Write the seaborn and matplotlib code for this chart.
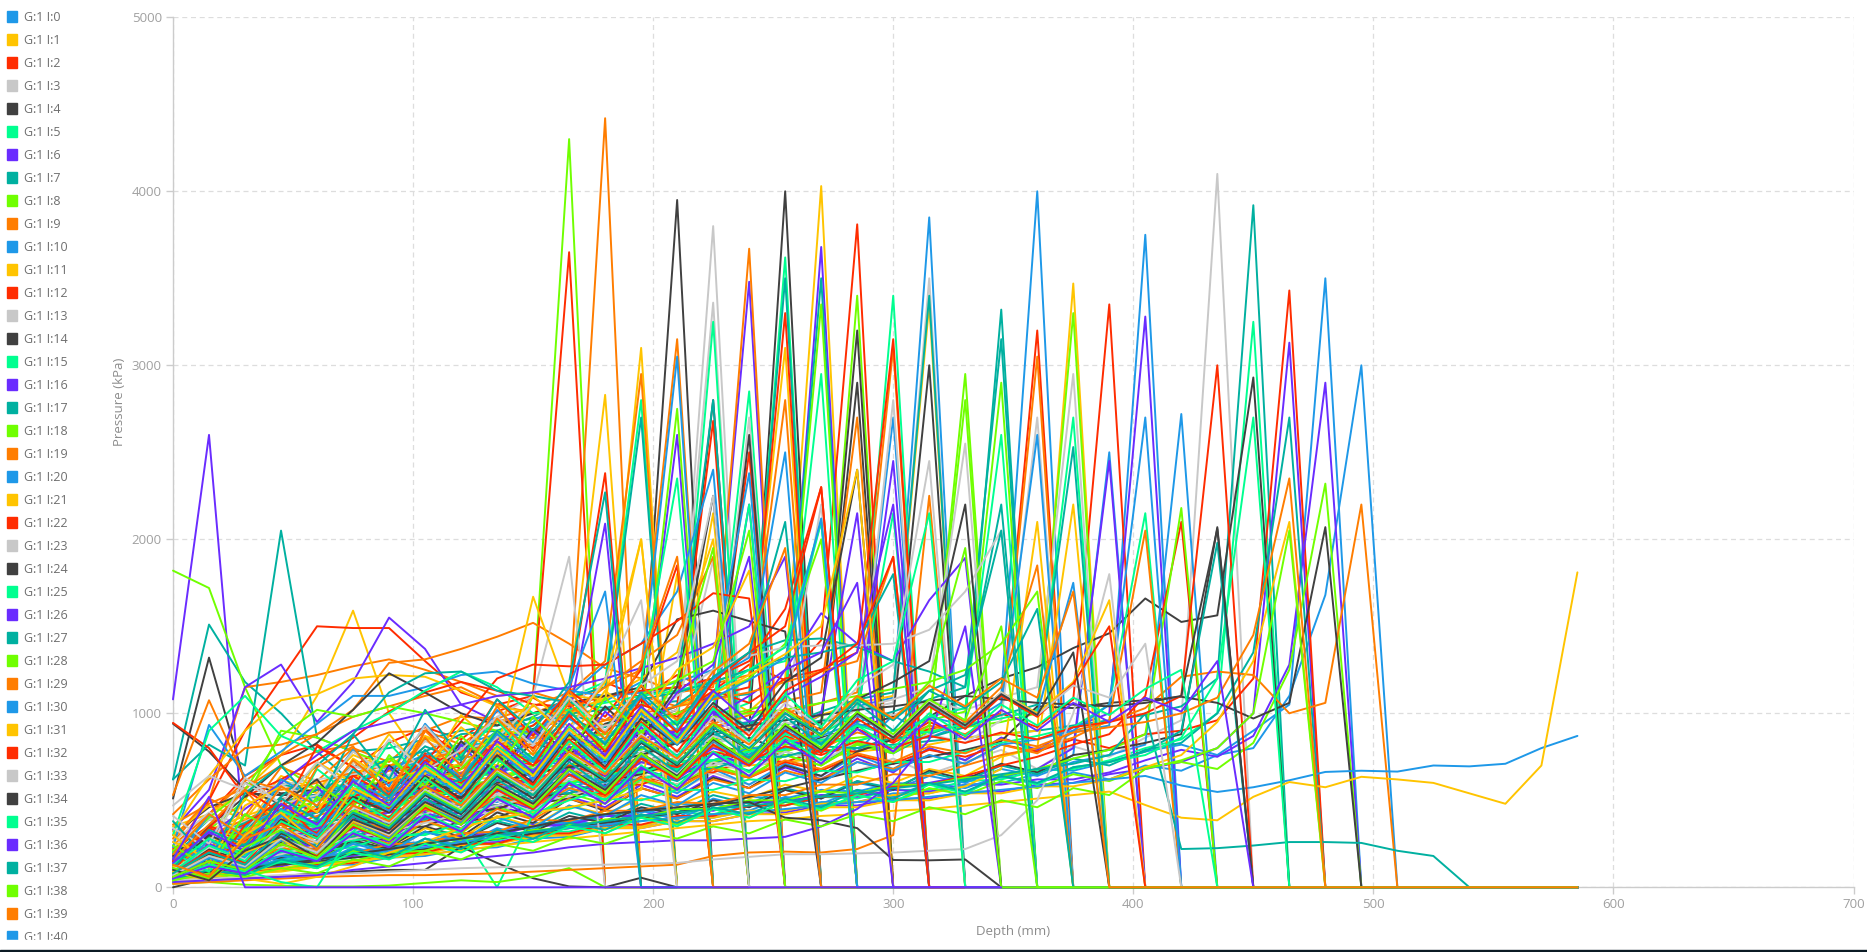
import numpy as np
import pandas as pd
import seaborn as sns
from matplotlib import pyplot as plt
from matplotlib.patches import Patch, Rectangle

# depth samples every 15 mm, a probe reading 0 after refusal
depth = list(range(0, 600, 15))
colors = ["#1e98e8", "#ffc400", "#ff2c00", "#c8c8c8", "#404040",
          "#00ff90", "#6a2cff", "#00b0a0", "#70ff00", "#ff7d00"]
x_ticks = [0, 100, 200, 300, 400, 500, 600, 700]
y_ticks = [0, 1000, 2000, 3000, 4000, 5000]
n_legend = 41

i0 = [120,260,210,390,350,520,470,610,560,700,640,780,720,830,760,880,790,850,920,780,990,860,940,1100,4000]
i1 = [210,400,340,620,540,780,690,860,800,950,880,1020,930,1080,960,1120,1010,1200,4030]
i2 = [180,420,640,760,820,690,830,920,850,1010,1090,970,1180,1090,1220,1130,1280,1190,1420,3810]
i3 = [90,220,170,310,260,390,340,470,420,530,480,590,520,610,550,660,590,700,630,670,740,650,720,790,680,810,750,860,960,4100]
i4 = [510,1320,600,540,560,550,540,500,480,470,520,600,660,720,780,840,900,4000]
i5 = [140,310,240,450,370,560,480,650,590,760,680,840,730,900,820,980,1060,3620]
i6 = [1080,2600,215,150,300,420,520,600,640,680,740,760,800,840,880,920,950,1000,3680]
i7 = [620,1510,1180,1000,780,600,560,540,560,600,620,640,660,680,700,720,740,760,780,800,820,840,860,880,900,930,960,990,1040,1200,3920]
i8 = [1820,1720,1150,700,560,520,480,540,620,700,1100,4300]
i9 = [260,500,1150,1180,1220,1270,1310,1250,1180,1100,1120,1060,4420]
i10 = [150,230,290,370,440,490,560,560,640,650,730,700,810,770,860,840,920,880,990,1040,1090,3850]
i11 = [350,420,560,760,1100,1590,1000,700,760,700,720,740,700,680,660,680,700,720,740,780,800,820,860,880,900,3470]
i12 = [200,500,900,1200,1500,1490,1490,1300,1120,1050,1100,3650]
i13 = [180,300,380,440,520,550,620,640,700,730,820,800,880,960,1040,3800]
i14 = [940,780,560,480,560,500,620,560,720,650,830,760,940,1000,3950]
i15 = [110,200,260,320,390,410,480,510,580,600,660,680,750,750,830,820,900,880,950,1020,3400]
i16 = [330,560,1150,1280,950,1180,1550,1370,1050,950,1000,1050,1100,1120,1150,1200,3480]
i17 = [620,820,700,2050,860,780,800,850,900,930,970,1000,1020,1050,1070,1090,1110,3500]
i18 = [100,170,220,290,350,380,440,470,530,540,600,610,680,660,730,720,800,790,880,3400]
i19 = [240,420,610,760,880,1020,1290,1310,1370,1440,1520,1400,1260,1200,1120,1150,3670]
i20 = [100,190,150,290,230,380,310,450,390,510,440,560,500,620,540,680,590,710,640,760,680,800,730,860,780,890,930,3750]
i21 = [160,350,280,520,440,720,630,860,770,960,880,1020,1080,3100]
i22 = [130,280,210,420,350,510,430,580,510,640,570,700,620,760,680,820,730,870,790,910,830,950,870,1000,920,1080,3350]
i23 = [260,430,350,590,510,720,640,810,730,890,810,970,890,1050,1100,3360]
i24 = [300,460,540,530,530,520,530,600,560,580,530,620,700,650,790,710,860,780,920,3200]
i25 = [70,190,140,320,260,430,370,540,470,650,570,760,680,850,900,3250]
i26 = [60,140,100,220,170,320,260,400,340,470,410,520,460,590,520,640,570,690,620,740,660,800,730,860,790,920,1000,3280]
i27 = [200,390,310,520,430,620,550,720,640,800,730,880,790,950,870,1010,930,1080,3500]
i28 = [150,330,500,900,860,780,700,660,640,650,660,680,700,720,740,770,800,820,840,860,880,900,920,950,1000,3300]
i29 = [420,620,800,820,880,980,1040,1100,1150,1050,1000,1080,1150,1250,3150]
i30 = [70,90,120,140,180,200,250,260,310,320,370,370,420,430,480,470,520,510,560,550,600,590,640,630,680,670,720,780,820,760,900,1050,3500]
i31 = [80,150,210,310,380,430,510,540,620,630,700,690,780,770,850,840,920,900,990,1060,1100,3350]
i32 = [50,80,120,190,260,290,360,380,440,450,520,520,590,590,670,660,740,720,790,780,850,910,950,1000,3200]
i33 = [120,190,250,290,350,380,450,450,520,540,620,650,740,750,830,820,900,880,960,1020,1060,3500]
i34 = [90,140,190,200,250,240,290,310,380,400,480,510,590,610,690,700,780,780,860,920,980,3000]
i35 = [40,60,90,110,140,170,210,220,270,270,320,320,370,380,430,420,470,470,520,510,560,560,610,620,670,680,730,800,850,1000,3250]
i36 = [40,60,80,100,130,150,190,200,250,260,300,300,340,340,380,380,420,430,470,470,510,510,550,550,590,600,650,680,720,800,1000,3130]
i37 = [160,240,310,360,430,480,550,570,640,660,730,740,810,800,880,870,950,930,1010,1080,1120,3400]
i38 = [80,150,200,270,340,390,470,510,590,610,690,700,780,790,870,970,1020,1080,3350]
i39 = [190,300,390,470,560,590,670,680,750,750,830,820,890,880,950,940,1010,1000,1060,1120,3100]
i40 = [50,100,70,150,110,220,170,280,230,330,280,380,340,440,390,480,440,520,480,560,520,600,570,640,600,660,620,700,670,760,800,1100,1680,3000]
i41 = [300,470,390,640,560,760,680,870,790,950,880,1100,2830]
i42 = [100,200,150,310,250,400,340,470,410,530,470,590,530,640,590,680,630,720,670,760,710,790,750,820,780,850,800,880,900,960,1200,3430]
i43 = [230,390,310,520,440,610,530,690,610,770,690,860,770,920,840,980,910,1000,950,1040,990,1070,1020,1090,1150,2950]
i44 = [130,280,210,390,320,520,450,620,540,740,660,860,780,950,1020,2800]
i45 = [190,350,280,470,400,600,520,700,620,800,720,870,790,950,880,1030,960,1100,2950]
i46 = [100,250,180,400,320,540,460,650,570,740,670,830,760,950,2600]
i47 = [110,210,160,300,240,400,330,490,410,560,490,620,560,670,610,730,670,780,720,820,770,880,950,3320]
i48 = [70,170,120,270,210,370,300,460,390,530,470,600,540,650,590,700,640,760,700,820,770,900,2950]
i49 = [130,260,200,370,310,470,400,530,470,600,540,680,610,750,690,810,750,860,800,890,840,930,880,1000,3050]
i50 = [60,110,160,200,270,310,390,400,480,490,560,570,640,650,720,730,800,800,870,950,2700]
i51 = [240,330,410,480,560,600,690,710,800,800,880,880,960,970,1040,1120,1200,3100]
i52 = [170,280,360,470,560,590,680,700,780,790,860,860,930,930,1000,1100,1150,3300]
i53 = [40,80,120,150,200,240,310,340,420,430,500,520,600,610,690,700,770,780,850,930,2800]
i54 = [70,150,110,210,170,290,230,350,290,430,370,510,440,570,510,630,570,700,640,780,850,980,1100,1200,1265,1375,1460,1660,1525,1563,2930]
i55 = [160,270,340,450,530,610,690,730,820,830,930,1090,1180,2800]
i56 = [60,80,110,130,170,190,240,250,300,310,360,360,410,410,450,450,490,490,530,520,560,550,590,590,620,620,660,730,790,750,870,1280,2900]
i57 = [90,170,240,300,370,400,470,490,570,580,670,680,760,770,840,850,910,900,960,950,1010,1080,1150,3150]
i58 = [60,120,180,230,300,340,410,430,500,510,590,600,660,650,720,720,790,780,840,840,900,960,1010,2900]
i59 = [360,480,570,700,780,820,890,900,980,970,1040,1120,1300,2950]
i60 = [50,110,80,170,130,230,180,280,240,340,290,390,350,450,400,510,460,560,510,600,560,640,600,680,640,720,760,820,2720]
i61 = [130,290,210,430,360,550,470,640,570,730,660,830,750,930,1000,2150]
i62 = [110,250,180,420,340,570,480,680,600,770,700,860,790,970,1040,2680]
i63 = [70,160,110,250,190,350,280,430,360,500,440,570,510,650,590,720,660,780,720,840,790,880,830,960,2700]
i64 = [50,130,90,190,150,290,230,410,330,530,450,650,570,740,670,830,760,900,950,2900]
i65 = [120,270,200,410,340,530,460,630,560,730,650,810,740,900,950,1000,2850]
i66 = [50,130,90,220,160,340,270,430,360,520,450,600,540,680,620,770,700,850,790,960,2450]
i67 = [190,410,320,600,520,700,630,810,730,900,830,1000,920,1100,1150,2800]
i68 = [40,110,70,200,140,300,230,380,310,460,400,540,480,620,560,690,630,760,700,830,780,930,2800]
i69 = [280,510,410,690,610,800,720,900,820,970,900,1030,960,1100,1040,1170,1220,2800]
i70 = [50,70,90,100,130,130,170,180,220,230,280,290,340,350,400,400,440,440,490,490,540,540,590,600,650,760,2500]
i71 = [40,60,80,90,120,140,180,190,240,250,300,300,340,350,400,400,440,440,480,490,530,540,580,680,2100]
i72 = [90,160,220,270,340,370,440,470,550,580,660,680,760,850,900,960,2500]
i73 = [130,180,230,270,330,360,430,440,510,530,600,610,680,710,780,890,2700]
i74 = [60,100,150,170,220,260,330,350,430,450,520,540,610,650,720,880,2600]
i75 = [100,160,220,270,330,360,430,440,510,520,580,590,650,660,720,730,780,790,850,840,900,890,940,970,1020,2700]
i76 = [40,70,100,120,170,180,230,240,300,300,350,360,410,410,450,440,490,490,530,530,590,600,640,640,680,800,2450]
i77 = [190,290,370,480,560,640,740,780,880,900,980,1090,1150,2700]
i78 = [70,120,170,240,310,380,460,500,580,620,700,740,810,950,2750]
i79 = [150,240,310,390,470,490,570,580,660,670,740,760,830,850,910,920,990,1070,1120,2700]
i80 = [100,200,150,300,240,420,350,500,430,590,520,670,600,750,680,820,760,890,830,940,880,980,930,1060,2600]
i81 = [60,120,90,190,140,270,210,340,280,410,350,470,420,510,470,550,510,590,550,640,600,680,640,750,800,2200]
i82 = [150,340,260,510,430,650,560,770,680,880,800,970,890,1050,980,1130,1060,1200,1250,1350,3150]
i83 = [110,210,160,310,250,420,340,520,440,610,540,700,630,780,710,870,800,950,880,1030,1080,1150,2550]
i84 = [80,150,110,210,170,270,220,320,270,370,320,410,370,460,420,500,460,560,510,610,560,670,620,710,660,760,790,830,880,2070]
i85 = [60,160,110,280,210,390,320,480,400,570,490,650,580,740,670,820,750,880,820,930,870,980,1030,2600]
i86 = [130,310,230,480,400,620,540,730,650,850,900,980,2090]
i87 = [60,120,90,190,150,260,210,320,270,380,330,430,380,480,430,530,480,570,520,610,570,660,610,700,650,740,700,790,830,1000,1350,2700]
i88 = [60,110,80,150,110,210,170,260,210,310,260,360,310,410,360,450,400,490,440,530,490,570,530,610,570,650,610,690,720,680,830,1250,2320]
i89 = [90,160,120,230,180,310,250,380,320,450,390,510,450,570,510,620,570,670,620,720,680,760,710,820,770,900,950,1030,1210,1240,1220,1000,1060,2200]
i90 = [170,270,350,450,530,600,690,720,810,830,910,1010,1070,1180,3050]
i91 = [50,70,100,110,140,150,200,200,250,250,290,300,340,340,380,380,420,420,460,460,500,500,540,540,580,580,620,690,760,950,1300,2100]
i92 = [40,60,90,100,130,140,190,200,250,250,310,310,360,360,410,410,470,470,520,530,580,590,640,700,750,820,880,1100,2100]
i93 = [100,140,200,230,290,320,390,420,500,520,600,620,700,710,790,820,890,990,2200]
i94 = [50,80,100,130,150,170,190,220,250,280,310,340,370,400,430,470,520,570,620,670,710,750,790,840,1040,1030,1060,1075,1095,1060,970,1060,2070]
i95 = [50,80,120,150,210,230,300,300,370,380,440,450,510,500,560,560,620,610,670,660,720,720,780,830,870,920,1050,2150]
i96 = [70,140,200,250,320,340,400,440,520,550,630,670,740,850,900,970,2200]
i97 = [70,110,150,190,250,290,370,390,460,470,540,540,610,620,680,680,750,750,810,800,860,860,920,990,1050,2530]
i98 = [30,50,80,100,140,150,200,210,270,280,330,340,390,400,450,450,500,500,550,540,590,590,630,640,680,740,790,880,2180]
i99 = [60,80,110,130,170,190,250,250,310,320,390,380,440,440,490,480,530,530,590,590,650,640,700,760,800,860,960,2050]
i100 = [60,90,120,150,170,190,210,230,260,290,320,340,360,380,400,420,430,450,470,490,500,520,540,560,580,600,620,640,585,548,575,615,663,670,665,700,695,710,800,870]
i101 = [40,60,80,100,120,150,170,190,210,240,260,280,300,320,340,360,380,390,410,420,440,450,470,490,510,530,550,473,400,385,520,605,575,635,620,600,540,480,700,1810]
i102 = [60,180,120,400,310,590,500,730,640,860,930,1100,2380]
i103 = [230,400,320,570,490,700,620,840,760,980,1100,1900]
i104 = [0,50,55,65,80,90,100,100,233,140,52,5,0,55]
i105 = [40,90,150,200,240,270,290,310,320,0,420,500,560,620,680,730,780,830,880,1000,2150]
i106 = [50,160,100,290,220,400,320,490,410,570,490,650,580,720,660,800,740,900,1000,2150]
i107 = [50,80,110,140,160,190,220,250,280,300,320,350,380,410,430,450,470,490,520,540,570,590,620,650,680,710,760,1000,220,225,240,260,260,255,210,180,0]
i108 = [20,30,15,10,5,5,10,25,40,30,60,110,0]
i109 = [20,30,40,50,60,65,70,70,75,80,90,100,110,120,130,180,200,205,200,220,300,2250]
i110 = [80,140,110,180,150,250,200,320,260,400,340,470,410,530,470,600,540,660,600,720,670,760,710,820,850,900,1050,2700]
i111 = [30,40,50,20,60,120,200,260,340,400,430,460,500,560,1800]
i112 = [220,350,290,430,370,510,450,580,520,650,590,700,640,740,690,780,730,810,760,840,800,870,830,890,850,920,950,1000,1100,3000]
i113 = [40,50,60,70,75,80,90,100,110,115,120,125,130,135,140,160,175,190,190,195,200,210,220,300,500,1000,1800]
i114 = [60,90,110,130,160,190,220,250,280,310,350,390,420,440,460,480,490,400,385,340,157,155,160,0]
i115 = [50,100,70,150,110,200,160,250,200,300,260,350,310,400,350,450,400,500,450,530,490,590,540,640,590,690,720,760,860,1200,2700]
i116 = [30,40,50,60,70,100,120,140,160,180,200,230,250,260,270,270,280,290,350,450,600,850,1500]
i117 = [40,100,70,160,120,220,170,280,220,330,280,370,330,420,370,460,420,510,460,560,510,600,550,640,600,690,720,780,900,1980]
i118 = [40,80,60,110,80,160,120,210,160,250,210,290,250,320,280,350,310,390,350,420,380,460,420,500,460,570,530,680,730,800,1000,2050]
i119 = [130,230,180,310,260,390,330,450,390,520,460,570,520,630,570,680,630,730,680,770,720,810,770,850,810,890,920,950,1000,1090,1450,2350]
i120 = [230,933,640,780,940,1100,1100,1150,1220,1240,1170,1130,1100,1120,1180,1250,2380]
i121 = [320,640,900,1075,1110,1200,1220,1210,1130,1040,1000,1000,1080,1200,1350,2000]
i122 = [945,800,520,620,730,860,1010,1120,1180,1130,1050,1040,1100,1130,1150,1200,1300,1600,2300]
i123 = [470,640,560,590,620,650,680,740,800,830,860,890,930,960,1020,1880]
i124 = [180,350,520,700,830,1020,1230,1120,1000,930,1000,1060,1100,1150,1540,1590,1530,1470]
i125 = [70,150,100,30,0,320,480,560,620,680,730,790,840,890,960,1020,2200]
i126 = [50,120,200,270,340,380,430,480,520,560,620,680,750,830,900,980,1100,1250,1575,1400,1300,1650,1893]
i127 = [90,170,250,320,380,440,500,560,620,680,740,800,860,930,1050,1200,1350,1420,1430,1380,1300,1240,1150,2200]
i128 = [210,400,560,870,1020,980,1040,1000,950,900,880,860,880,940,1000,1080,1200,1400,2000]
i129 = [530,1075,620,560,600,660,700,740,780,820,860,900,960,1000,1040,1080,1120,1180,1240,1300,1900]
i130 = [100,200,300,400,500,600,680,760,820,880,950,1100,1280,1400,1700,2400]
i131 = [110,190,280,380,470,540,600,660,710,780,1670,1100,1080,2000]
i132 = [90,180,280,380,450,520,600,720,950,1200,1280,1270,1280,1400,1530,1690,1660]
i133 = [70,110,150,190,240,280,320,370,420,470,520,650,800,950,1100,1250,1330,1380,1390,1390,1400,1480,1700,2050]
i134 = [100,160,210,260,300,350,400,460,520,600,660,690,720,760,830,890,930,960,990,1020,1040,1070,1100,1080,1060,1050,1040,1060,1100,2060]
i135 = [300,900,1100,870,780,900,1000,1130,1240,1150,1000,1020,1060,1100,1130,1180,1250,1300,2100]
i136 = [160,300,450,600,760,900,950,1000,1050,1100,1120,1150,1200,1260,1320,1400,1500,1900]
i137 = [90,190,320,520,700,880,1120,1230,1240,1130,1100,1060,1030,1080,1120,1180,1250,1320,1350,1400,1800]
i138 = [110,220,330,420,500,560,620,660,700,740,770,800,840,900,940,980,1000,1020,1060,1100,1140,1180,1250,1400,1700]
i139 = [100,180,260,340,410,480,540,600,680,760,880,1000,1150,1300,1450,1900]
i140 = [130,420,280,620,510,790,580,940,700,1020,830,1150,1700]
i141 = [260,180,510,390,720,600,880,650,990,810,1100,920,1180,2000]
i142 = [90,340,560,430,810,690,520,900,760,1080,870,1130,980,1250,1850]
i143 = [340,220,600,480,530,780,640,930,700,860,1050,900,1200,1650]
i144 = [120,300,210,480,620,370,700,540,840,650,910,780,1040,850,1150,2250]
i145 = [200,90,420,310,680,520,830,600,760,960,720,1090,850,1180,2350]
i146 = [70,250,160,430,580,350,690,470,820,610,900,720,1010,840,1120,1280,1900]
i147 = [380,150,540,700,460,880,620,1020,740,1080,900,1180,2270]
i148 = [40,190,330,240,520,410,760,560,680,900,640,1020,790,1110,1190,1950]
i149 = [160,360,560,330,690,810,520,900,700,1040,780,1130,880,1280,1900]
i150 = [80,270,180,450,360,620,500,750,640,880,720,970,830,1100,900,1200,1320,2500]
i151 = [300,140,470,580,430,740,610,680,920,760,1050,850,1130,960,1250,1380,1820]
i152 = [150,60,360,500,290,640,530,760,620,840,700,990,780,1080,890,1180,1350,1500,2300]
i153 = [410,250,630,480,720,560,850,670,790,980,820,1090,900,1160,1300,2250]
i154 = [60,220,150,390,280,520,430,640,510,760,600,880,690,970,820,1060,900,1180,1320,2400]
i155 = [130,280,180,440,350,590,470,700,560,810,660,920,730,1030,840,1120,1250,1380,2100]
i156 = [50,180,110,330,230,470,350,590,440,700,530,810,640,920,730,1010,840,1100,1210,1350,2200]
i157 = [110,330,240,510,390,680,520,790,610,900,740,1010,820,1120,930,1210,1350,2100]
i158 = [240,110,420,310,590,460,740,580,870,670,980,770,1090,880,1190,1300,2050]
i159 = [190,420,290,580,470,730,560,860,640,970,760,1060,850,1160,960,1240,1400,1950]
i160 = [70,240,170,410,300,560,440,670,530,790,620,890,710,1000,820,1090,1190,1320,2120]
i161 = [120,60,300,430,250,570,470,690,550,800,640,910,740,1020,830,1110,1220,1340,1500,2400]
i162 = [80,210,140,370,280,500,400,630,490,740,590,850,680,950,780,1040,870,1130,1240,1400,1900]
i163 = [100,230,160,340,260,460,370,560,450,670,540,770,650,880,730,980,830,1060,920,1150,1280,2450]
i164 = [60,190,120,310,230,420,330,530,420,640,510,740,610,830,700,920,790,1000,870,1080,1180,1300,2200]
i165 = [90,240,150,380,280,510,390,630,480,740,570,840,660,940,750,1030,840,1110,920,1190,1300,2150]
i166 = [140,320,210,480,360,610,470,720,570,840,660,940,760,1040,860,1130,950,1250,1350,1750]
i167 = [70,170,110,290,200,410,300,510,400,620,490,720,570,810,660,900,740,980,820,1060,900,1130,1220,2050]
i168 = [110,50,230,330,180,440,350,550,440,660,530,760,620,850,710,940,790,1020,870,1090,960,1180,1950]
i169 = [80,180,130,270,210,370,290,470,380,570,470,670,550,760,640,840,730,920,800,990,870,1060,950,1150,1850]
i170 = [60,170,110,270,200,380,280,480,370,570,460,670,540,760,630,840,710,920,790,990,860,1050,930,1110,1000,1750]
i171 = [90,40,200,280,150,380,300,480,390,580,470,680,550,770,640,850,720,930,790,1000,860,1060,930,1120,1000,1180,1650]
i172 = [60,150,100,250,180,350,270,460,360,560,450,650,530,740,620,820,700,900,770,970,840,1040,910,1100,980,1170,1500]
i173 = [70,180,120,280,200,390,300,490,390,590,480,680,560,770,650,850,720,930,800,1000,870,1070,930,1120,990,1160,1090,1400]
i174 = [100,40,210,290,170,390,310,490,390,590,480,680,560,770,640,850,720,930,790,1000,860,1060,930,1110,990,1350]
i175 = [50,130,90,220,160,320,240,420,330,520,420,610,500,700,580,780,660,860,730,930,800,1000,870,1050,930,1090,990,1140,1250]
i176 = [50,120,80,210,150,310,230,410,320,510,400,600,480,690,560,770,640,840,710,910,780,970,850,1020,900,1060,950,1090,1010,1300]
i177 = [80,200,130,320,230,430,340,540,430,650,530,750,620,840,710,920,800,1000,880,1080,960,1130,1030,1180,1600]
i178 = [60,150,100,250,170,360,270,470,360,580,460,680,540,770,630,860,720,940,800,1010,880,1080,960,1500]
i179 = [130,60,280,360,220,470,380,580,470,680,560,780,650,870,740,950,820,1030,900,1100,970,1160,1040,1200,1090,1700]
i180 = [160,520,0,0,0,0,0,0,0,0,0,0,0,0,0,0,0,0,0,0,0,0,0,0]

n_series = 181
series = [globals()[f"i{n}"] for n in range(n_series)]
labels = [f"G:1 I:{n}" for n in range(n_series)]

# every probe keeps reading 0 down to the last depth, the last one stops at 345
rows = []
for n, values in enumerate(series):
    full = values if n == n_series - 1 else values + [0] * (len(depth) - len(values))
    rows.append(pd.DataFrame({"depth": depth[:len(full)], "pressure": full, "probe": labels[n]}))
df = pd.concat(rows)
palette = {lab: colors[n % 10] for n, lab in enumerate(labels)}
palette[labels[-1]] = colors[6]

sns.set_theme(style="white")
plt.rcParams["font.family"] = ["Open Sans", "DejaVu Sans"]

W, H = 1867, 952
fig = plt.figure(figsize=(W / 100, H / 100), dpi=100)
ax = fig.add_axes([173 / W, 1 - 887.3 / H, 1680.5 / W, 870 / H])

sns.lineplot(data=df, x="depth", y="pressure", hue="probe", hue_order=labels, palette=palette,
             estimator=None, sort=False, legend=False, linewidth=1.4, ax=ax)
for line in ax.lines:
    line.set_clip_on(False)

ax.set_xlim(0, 700)
ax.set_ylim(0, 5000)
ax.set_xticks(x_ticks)
ax.set_yticks(y_ticks)
ax.grid(True, color="#dddddd", linestyle=(0, (4, 3)), linewidth=0.9)
ax.set_axisbelow(True)
for side in ("top", "right"):
    ax.spines[side].set_visible(False)
for side in ("left", "bottom"):
    ax.spines[side].set_color("#cccccc")
    ax.spines[side].set_linewidth(1)
    ax.spines[side].set_zorder(1)
ax.tick_params(axis="both", length=5, width=1, color="#cccccc", labelcolor="#a0a0a0",
               labelsize=9.5, pad=3, bottom=True, left=True)

ax.set_xlabel("Depth (mm)", fontsize=9.5, color="#8c8c8c")
ax.set_ylabel("Pressure (kPa)", fontsize=9.5, color="#8c8c8c")
ax.xaxis.set_label_coords(0.5, (887.3 - 925) / 870)
ax.yaxis.set_label_coords((126 - 173) / 1680, (887.3 - 402) / 870)

handles = [Patch(color=colors[n % 10], label=labels[n]) for n in range(n_legend)]
fig.legend(handles=handles, loc="upper left", bbox_to_anchor=(3 / W, 1 - 7 / H), frameon=False,
           fontsize=9, labelcolor="#6e6e6e", handlelength=0.85, handleheight=1.0, handletextpad=0.5,
           labelspacing=0.8, borderpad=0.3, borderaxespad=0)

# the page cuts the legend off, dark strip under it
fig.add_artist(Rectangle((0, 2 / H), 150 / W, 10 / H, transform=fig.transFigure, color="white", zorder=20))
fig.add_artist(Rectangle((0, 0), 1, 2 / H, transform=fig.transFigure, color="#0b1a24", zorder=21))

fig.savefig("out.png", dpi=100)
